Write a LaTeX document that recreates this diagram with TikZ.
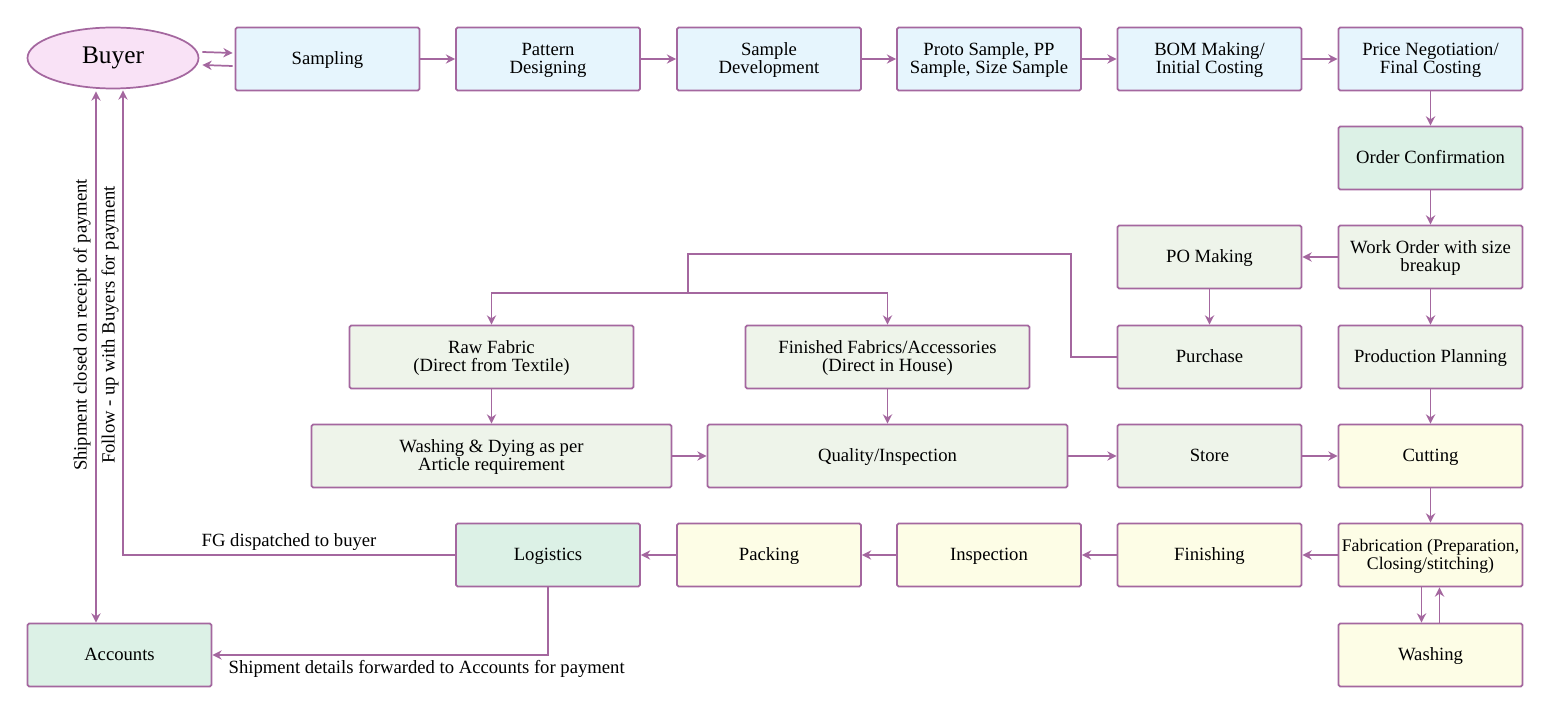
\documentclass[tikz,border=0pt]{standalone}
\usepackage{fontspec}
\setmainfont{Liberation Serif}
\usepackage{tikz}
\usetikzlibrary{arrows.meta, calc, shapes.geometric}
\definecolor{edgepurple}{HTML}{A4679F}
\definecolor{fillblue}{HTML}{E6F5FD}
\definecolor{fillgreen}{HTML}{EEF4EA}
\definecolor{fillmint}{HTML}{DCF1E6}
\definecolor{fillyellow}{HTML}{FDFDE6}
\definecolor{fillpink}{HTML}{F9E2F6}
\newcommand\px{0.75pt}
\tikzset{
  stagebox/.style={rectangle, draw=edgepurple, line width=1.3pt, rounded corners=1.2pt,
    minimum width=184*\px, minimum height=63*\px, inner sep=1pt, align=center,
    text depth=1pt, font=\fontsize{14}{13.6}\selectfont},
  widebox/.style={stagebox, minimum width=284*\px},
  widerbox/.style={stagebox, minimum width=360*\px},
  arr/.style={draw=edgepurple, line width=1.3pt, -{Stealth[length=7pt,width=7pt]}},
  twoarr/.style={arr, {Stealth[length=7pt,width=7pt]}-{Stealth[length=7pt,width=7pt]}},
  link/.style={draw=edgepurple, line width=1.3pt},
  lbl/.style={font=\fontsize{14}{14}\selectfont, inner sep=0pt}
}

\begin{document}
\begin{tikzpicture}[x=0.75pt, y=-0.75pt]
      \useasboundingbox (0,0) rectangle (1551,720);
      \node[ellipse, draw=edgepurple, fill=fillpink, line width=1.3pt, minimum width=171*\px,
        minimum height=61*\px, font=\fontsize{19}{19}\selectfont] (buyer) at (113,58) {Buyer};
      \node[stagebox, fill=fillblue] (sampling) at (327.5,59) {Sampling};
      \node[stagebox, fill=fillblue] (pattern) at (548,59) {Pattern\\Designing};
      \node[stagebox, fill=fillblue] (sampledev) at (769,59) {Sample\\Development};
      \node[stagebox, fill=fillblue] (proto) at (989,59) {Proto Sample, PP\\Sample, Size Sample};
      \node[stagebox, fill=fillblue] (bom) at (1209.5,59) {BOM Making/\\Initial Costing};
      \node[stagebox, fill=fillblue] (price) at (1430.5,59) {Price Negotiation/\\Final Costing};
      \node[stagebox, fill=fillmint] (orderconf) at (1430.5,158) {Order Confirmation};
      \node[stagebox, fill=fillgreen] (workorder) at (1430.5,257) {Work Order with size\\breakup};
      \node[stagebox, fill=fillgreen] (pomaking) at (1209.5,257) {PO Making};
      \node[widebox, fill=fillgreen] (rawfabric) at (491.5,357) {Raw Fabric\\(Direct from Textile)};
      \node[widebox, fill=fillgreen] (finfabric) at (887.5,357) {Finished Fabrics/Accessories\\(Direct in House)};
      \node[stagebox, fill=fillgreen] (purchase) at (1209.5,357) {Purchase};
      \node[stagebox, fill=fillgreen] (prodplan) at (1430.5,357) {Production Planning};
      \node[widerbox, fill=fillgreen] (washdye) at (491.5,456) {Washing \& Dying as per\\Article requirement};
      \node[widerbox, fill=fillgreen] (quality) at (887.5,456) {Quality/Inspection};
      \node[stagebox, fill=fillgreen] (store) at (1209.5,456) {Store};
      \node[stagebox, fill=fillyellow] (cutting) at (1430.5,456) {Cutting};
      \node[stagebox, fill=fillmint] (logistics) at (548,555) {Logistics};
      \node[stagebox, fill=fillyellow] (packing) at (769,555) {Packing};
      \node[stagebox, fill=fillyellow] (inspection) at (989,555) {Inspection};
      \node[stagebox, fill=fillyellow] (finishing) at (1209.5,555) {Finishing};
      \node[stagebox, fill=fillyellow, inner xsep=0pt, font=\fontsize{13.3}{13.6}\selectfont]
        (fabrication) at (1430.5,555) {Fabrication (Preparation,\\Closing/stitching)};
      \node[stagebox, fill=fillmint] (accounts) at (119.5,655) {Accounts};
      \node[stagebox, fill=fillyellow] (washing) at (1430.5,655) {Washing};
      \draw[arr] ($(buyer.east)+(3,-6)$) -- ($(sampling.west)+(-2,-6)$);
      \draw[arr] ($(sampling.west)+(-2,7)$) -- ($(buyer.east)+(3,7)$);
      \draw[arr] (sampling) -- (pattern);
      \draw[arr] (pattern) -- (sampledev);
      \draw[arr] (sampledev) -- (proto);
      \draw[arr] (proto) -- (bom);
      \draw[arr] (bom) -- (price);
      \draw[arr] (price) -- (orderconf);
      \draw[arr] (orderconf) -- (workorder);
      \draw[arr] (workorder) -- (pomaking);
      \draw[arr] (workorder) -- (prodplan);
      \draw[arr] (pomaking) -- (purchase);
      \coordinate (split) at (688,293);
      \draw[link] (purchase.west) -- ++(-46,0) |- (688,254) -- (split);
      \draw[arr] (split) -| (rawfabric.north);
      \draw[arr] (split) -| (finfabric.north);
      \draw[arr] (rawfabric) -- (washdye);
      \draw[arr] (finfabric) -- (quality);
      \draw[arr] (washdye) -- (quality);
      \draw[arr] (quality) -- (store);
      \draw[arr] (store) -- (cutting);
      \draw[arr] (prodplan) -- (cutting);
      \draw[arr] (cutting) -- (fabrication);
      \draw[arr] ($(fabrication.south)+(-9,0)$) -- ($(washing.north)+(-9,0)$);
      \draw[arr] ($(washing.north)+(9,0)$) -- ($(fabrication.south)+(9,0)$);
      \draw[arr] (fabrication) -- (finishing);
      \draw[arr] (finishing) -- (inspection);
      \draw[arr] (inspection) -- (packing);
      \draw[arr] (packing) -- (logistics);
      \draw[arr] (logistics.west) -| ($(buyer.south)+(10,1)$)
        node[lbl, pos=0.25, above=3pt] {FG dispatched to buyer};
      \draw[arr] (logistics.south) |- (accounts.east);
      \node[lbl, anchor=north west] (shipdetails) at ($(accounts.east)+(16,5)$)
        {Shipment details forwarded to Accounts for payment};
      \draw[twoarr] ($(buyer.south)+(-17,2)$) -- ($(accounts.north)+(-23.5,0)$);
      \node[lbl, rotate=90] (shipclosed) at (82,325) {Shipment closed on receipt of payment};
      \node[lbl, rotate=90] (followup) at (110,325) {Follow - up with Buyers for payment};
    \end{tikzpicture}
\end{document}
